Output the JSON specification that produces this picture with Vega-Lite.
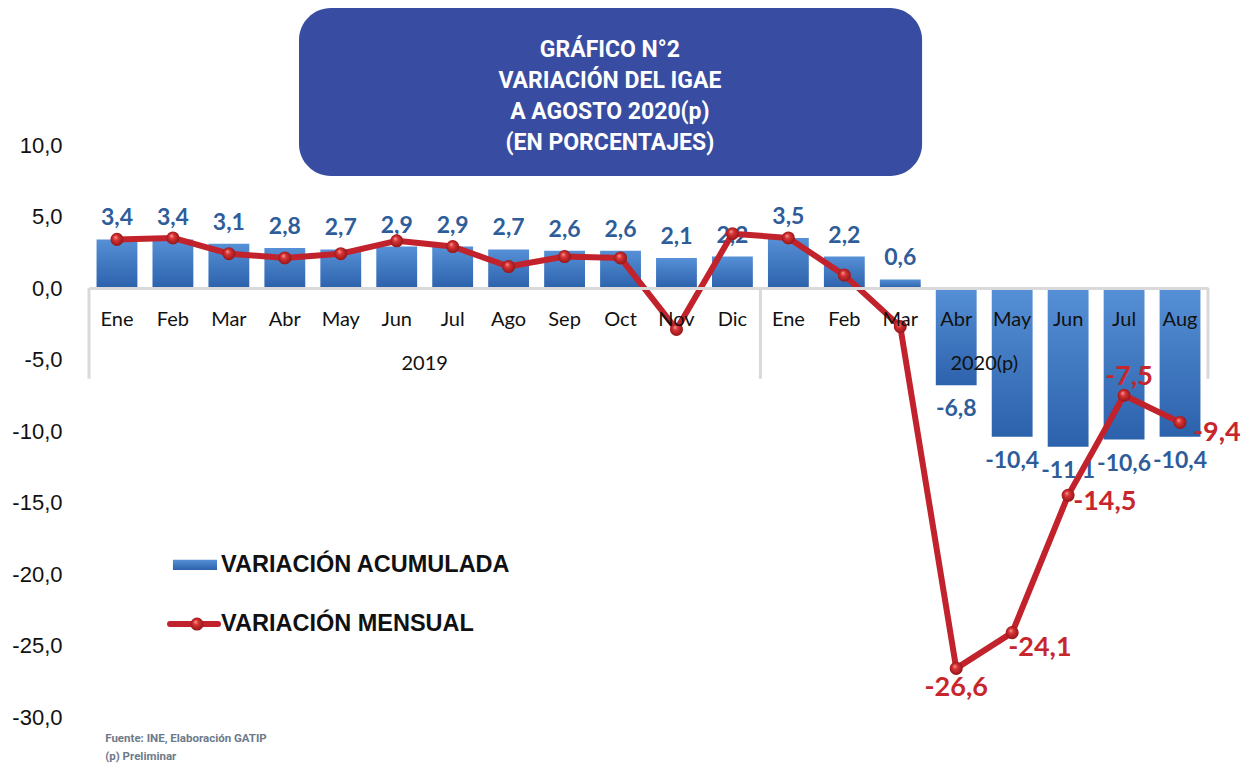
{
  "$schema": "https://vega.github.io/schema/vega-lite/v6.json",
  "width": 1119,
  "height": 572,
  "autosize": {"type": "none"},
  "padding": {"left": 89, "top": 145, "right": 48, "bottom": 51},
  "background": "white",
  "config": {
    "view": {"stroke": null},
    "locale": {"number": {"decimal": ",", "thousands": ".", "grouping": [3], "currency": ["", ""], "minus": "-"}}
  },
  "data": {
    "values": [
      {"k": "Ene|2019", "mes": "Ene", "anio": "2019", "acum": 3.4, "mens": 3.4},
      {"k": "Feb|2019", "mes": "Feb", "anio": "2019", "acum": 3.4, "mens": 3.5},
      {"k": "Mar|2019", "mes": "Mar", "anio": "2019", "acum": 3.1, "mens": 2.4},
      {"k": "Abr|2019", "mes": "Abr", "anio": "2019", "acum": 2.8, "mens": 2.1},
      {"k": "May|2019", "mes": "May", "anio": "2019", "acum": 2.7, "mens": 2.4},
      {"k": "Jun|2019", "mes": "Jun", "anio": "2019", "acum": 2.9, "mens": 3.3},
      {"k": "Jul|2019", "mes": "Jul", "anio": "2019", "acum": 2.9, "mens": 2.9},
      {"k": "Ago|2019", "mes": "Ago", "anio": "2019", "acum": 2.7, "mens": 1.5},
      {"k": "Sep|2019", "mes": "Sep", "anio": "2019", "acum": 2.6, "mens": 2.2},
      {"k": "Oct|2019", "mes": "Oct", "anio": "2019", "acum": 2.6, "mens": 2.1},
      {"k": "Nov|2019", "mes": "Nov", "anio": "2019", "acum": 2.1, "mens": -2.9},
      {"k": "Dic|2019", "mes": "Dic", "anio": "2019", "acum": 2.2, "mens": 3.8},
      {"k": "Ene|2020", "mes": "Ene", "anio": "2020(p)", "acum": 3.5, "mens": 3.5},
      {"k": "Feb|2020", "mes": "Feb", "anio": "2020(p)", "acum": 2.2, "mens": 0.9},
      {"k": "Mar|2020", "mes": "Mar", "anio": "2020(p)", "acum": 0.6, "mens": -2.7},
      {"k": "Abr|2020", "mes": "Abr", "anio": "2020(p)", "acum": -6.8, "mens": -26.6},
      {"k": "May|2020", "mes": "May", "anio": "2020(p)", "acum": -10.4, "mens": -24.1},
      {"k": "Jun|2020", "mes": "Jun", "anio": "2020(p)", "acum": -11.1, "mens": -14.5},
      {"k": "Jul|2020", "mes": "Jul", "anio": "2020(p)", "acum": -10.6, "mens": -7.5},
      {"k": "Aug|2020", "mes": "Aug", "anio": "2020(p)", "acum": -10.4, "mens": -9.4}
    ]
  },
  "encoding": {
    "x": {
      "field": "k", "type": "nominal",
      "scale": {
        "domain": ["Ene|2019","Feb|2019","Mar|2019","Abr|2019","May|2019","Jun|2019","Jul|2019","Ago|2019","Sep|2019","Oct|2019","Nov|2019","Dic|2019","Ene|2020","Feb|2020","Mar|2020","Abr|2020","May|2020","Jun|2020","Jul|2020","Aug|2020"],
        "paddingInner": 0, "paddingOuter": 0
      },
      "axis": {
        "orient": "bottom", "offset": -429, "title": null,
        "labelExpr": "split(datum.value, '|')[0]",
        "labelAngle": 0, "ticks": false, "tickSize": 0,
        "domainColor": "#d9d9d9", "domainWidth": 3,
        "labelFont": "Lato", "labelFontSize": 20, "labelColor": "#111111",
        "labelPadding": 21, "zindex": 1
      }
    },
    "y": {
      "field": "acum", "type": "quantitative",
      "scale": {"domain": [-30, 10], "nice": false, "zero": false},
      "axis": {
        "title": null, "values": [-30, -25, -20, -15, -10, -5, 0, 5, 10],
        "format": ".1f", "domain": false, "ticks": false, "grid": false,
        "labelFont": "Liberation Sans", "labelFontSize": 22, "labelColor": "#111111",
        "labelPadding": 27
      }
    }
  },
  "layer": [
    {
      "transform": [{"filter": "datum.k == 'Ene|2019'"}],
      "mark": {"type": "rect", "color": "#384CA1", "cornerRadius": 32},
      "encoding": {
        "x": {"datum": "Abr|2019", "type": "nominal", "bandPosition": 0.753},
        "x2": {"datum": "Mar|2020", "bandPosition": 0.89},
        "y": {"datum": 19.58, "type": "quantitative"},
        "y2": {"datum": 7.83}
      }
    },
    {
      "transform": [{"filter": "datum.k == 'Ene|2019'"}],
      "mark": {"type": "text", "text": "GRÁFICO N°2\nVARIACIÓN DEL IGAE\nA AGOSTO 2020(p)\n(EN PORCENTAJES)", "lineBreak": "\n", "lineHeight": 31, "align": "center", "baseline": "middle", "font": "Roboto", "fontSize": 23, "fontWeight": "bold", "color": "white"},
      "encoding": {
        "x": {"datum": "Oct|2019", "type": "nominal", "bandPosition": 0.31},
        "y": {"datum": 16.64, "type": "quantitative"}
      }
    },
    {
      "mark": {
        "type": "bar", "width": {"band": 0.73},
        "color": {"gradient": "linear", "x1": 0, "y1": 0, "x2": 0, "y2": 1, "stops": [{"offset": 0, "color": "#5690D6"}, {"offset": 1, "color": "#2C62AC"}]}
      }
    },
    {
      "transform": [{"filter": "datum.acum > 0"}],
      "mark": {"type": "text", "dy": -21, "baseline": "middle", "align": "center", "font": "Lato", "fontSize": 23, "fontWeight": "bold", "color": "#2F5D9A"},
      "encoding": {"text": {"field": "acum", "type": "quantitative", "format": ".1f"}}
    },
    {
      "transform": [{"filter": "datum.acum < 0"}],
      "mark": {"type": "text", "dy": 24, "baseline": "middle", "align": "center", "font": "Lato", "fontSize": 23, "fontWeight": "bold", "color": "#2F5D9A"},
      "encoding": {"text": {"field": "acum", "type": "quantitative", "format": ".1f"}}
    },
    {
      "transform": [{"filter": "datum.mes == 'Ene'"}],
      "mark": {"type": "rule", "color": "#d9d9d9", "strokeWidth": 3},
      "encoding": {
        "x": {"field": "k", "type": "nominal", "bandPosition": 0},
        "y": {"datum": 0, "type": "quantitative"},
        "y2": {"datum": -6.35}
      }
    },
    {
      "transform": [{"filter": "datum.k == 'Aug|2020'"}],
      "mark": {"type": "rule", "color": "#d9d9d9", "strokeWidth": 3},
      "encoding": {
        "x": {"field": "k", "type": "nominal", "bandPosition": 1},
        "y": {"datum": 0, "type": "quantitative"},
        "y2": {"datum": -6.35}
      }
    },
    {
      "transform": [{"filter": "datum.k == 'Jun|2019' || datum.k == 'Abr|2020'"}],
      "mark": {"type": "text", "align": "center", "baseline": "middle", "font": "Lato", "fontSize": 20, "color": "#111111"},
      "encoding": {
        "x": {"field": "k", "type": "nominal", "bandPosition": 1},
        "y": {"datum": -5.3, "type": "quantitative"},
        "text": {"field": "anio"}
      }
    },
    {
      "mark": {"type": "line", "color": "#C1222B", "strokeWidth": 6, "strokeJoin": "round"},
      "encoding": {"y": {"field": "mens", "type": "quantitative"}}
    },
    {
      "mark": {
        "type": "point", "filled": true, "size": 170, "opacity": 1,
        "fill": {"gradient": "radial", "x1": 0.38, "y1": 0.32, "r1": 0, "x2": 0.5, "y2": 0.5, "r2": 0.55, "stops": [{"offset": 0, "color": "#F6A0A0"}, {"offset": 0.35, "color": "#D83333"}, {"offset": 1, "color": "#8E1216"}]}
      },
      "encoding": {"y": {"field": "mens", "type": "quantitative"}}
    },
    {
      "transform": [{"filter": "datum.k == 'Jul|2020'"}],
      "mark": {"type": "text", "align": "center", "baseline": "middle", "dx": 5, "dy": -18, "font": "Lato", "fontSize": 27, "fontWeight": "bold", "color": "#C8262D"},
      "encoding": {"y": {"field": "mens", "type": "quantitative"}, "text": {"field": "mens", "type": "quantitative", "format": ".1f"}}
    },
    {
      "transform": [{"filter": "datum.k == 'Aug|2020'"}],
      "mark": {"type": "text", "align": "left", "baseline": "middle", "dx": 13, "dy": 11, "font": "Lato", "fontSize": 27, "fontWeight": "bold", "color": "#C8262D"},
      "encoding": {"y": {"field": "mens", "type": "quantitative"}, "text": {"field": "mens", "type": "quantitative", "format": ".1f"}}
    },
    {
      "transform": [{"filter": "datum.k == 'Jun|2020'"}],
      "mark": {"type": "text", "align": "left", "baseline": "middle", "dx": 5, "dy": 7, "font": "Lato", "fontSize": 27, "fontWeight": "bold", "color": "#C8262D"},
      "encoding": {"y": {"field": "mens", "type": "quantitative"}, "text": {"field": "mens", "type": "quantitative", "format": ".1f"}}
    },
    {
      "transform": [{"filter": "datum.k == 'May|2020'"}],
      "mark": {"type": "text", "align": "left", "baseline": "middle", "dx": -4, "dy": 15, "font": "Lato", "fontSize": 27, "fontWeight": "bold", "color": "#C8262D"},
      "encoding": {"y": {"field": "mens", "type": "quantitative"}, "text": {"field": "mens", "type": "quantitative", "format": ".1f"}}
    },
    {
      "transform": [{"filter": "datum.k == 'Abr|2020'"}],
      "mark": {"type": "text", "align": "center", "baseline": "middle", "dx": 0, "dy": 20, "font": "Lato", "fontSize": 27, "fontWeight": "bold", "color": "#C8262D"},
      "encoding": {"y": {"field": "mens", "type": "quantitative"}, "text": {"field": "mens", "type": "quantitative", "format": ".1f"}}
    },
    {
      "transform": [{"filter": "datum.k == 'Ene|2019'"}],
      "mark": {
        "type": "rect",
        "color": {"gradient": "linear", "x1": 0, "y1": 0, "x2": 0, "y2": 1, "stops": [{"offset": 0, "color": "#5690D6"}, {"offset": 1, "color": "#2C62AC"}]}
      },
      "encoding": {
        "x": {"datum": "Feb|2019", "type": "nominal", "bandPosition": 0.5},
        "x2": {"datum": "Mar|2019", "bandPosition": 0.288},
        "y": {"datum": -19.0, "type": "quantitative"},
        "y2": {"datum": -19.72}
      }
    },
    {
      "transform": [{"filter": "datum.k == 'Ene|2019'"}],
      "mark": {"type": "text", "text": "VARIACIÓN ACUMULADA", "align": "left", "baseline": "middle", "font": "Liberation Sans", "fontSize": 23.5, "fontWeight": "bold", "color": "#111111"},
      "encoding": {
        "x": {"datum": "Mar|2019", "type": "nominal", "bandPosition": 0.36},
        "y": {"datum": -19.37, "type": "quantitative"}
      }
    },
    {
      "transform": [{"filter": "datum.k == 'Ene|2019'"}],
      "mark": {"type": "rule", "color": "#C1222B", "strokeWidth": 6, "strokeCap": "round"},
      "encoding": {
        "x": {"datum": "Feb|2019", "type": "nominal", "bandPosition": 0.448},
        "x2": {"datum": "Mar|2019", "bandPosition": 0.306},
        "y": {"datum": -23.5, "type": "quantitative"}
      }
    },
    {
      "transform": [{"filter": "datum.k == 'Ene|2019'"}],
      "mark": {
        "type": "point", "filled": true, "size": 170, "opacity": 1,
        "fill": {"gradient": "radial", "x1": 0.38, "y1": 0.32, "r1": 0, "x2": 0.5, "y2": 0.5, "r2": 0.55, "stops": [{"offset": 0, "color": "#F6A0A0"}, {"offset": 0.35, "color": "#D83333"}, {"offset": 1, "color": "#8E1216"}]}
      },
      "encoding": {
        "x": {"datum": "Feb|2019", "type": "nominal", "bandPosition": 0.93},
        "y": {"datum": -23.5, "type": "quantitative"}
      }
    },
    {
      "transform": [{"filter": "datum.k == 'Ene|2019'"}],
      "mark": {"type": "text", "text": "VARIACIÓN MENSUAL", "align": "left", "baseline": "middle", "font": "Liberation Sans", "fontSize": 23.5, "fontWeight": "bold", "color": "#111111"},
      "encoding": {
        "x": {"datum": "Mar|2019", "type": "nominal", "bandPosition": 0.36},
        "y": {"datum": -23.5, "type": "quantitative"}
      }
    },
    {
      "transform": [{"filter": "datum.k == 'Ene|2019'"}],
      "mark": {"type": "text", "text": "Fuente: INE, Elaboración GATIP\n(p) Preliminar", "lineBreak": "\n", "lineHeight": 18, "align": "left", "baseline": "middle", "font": "Roboto", "fontSize": 11.5, "fontWeight": "bold", "color": "#6C7A89"},
      "encoding": {
        "x": {"datum": "Ene|2019", "type": "nominal", "bandPosition": 0.29},
        "y": {"datum": -31.54, "type": "quantitative"}
      }
    }
  ]
}
